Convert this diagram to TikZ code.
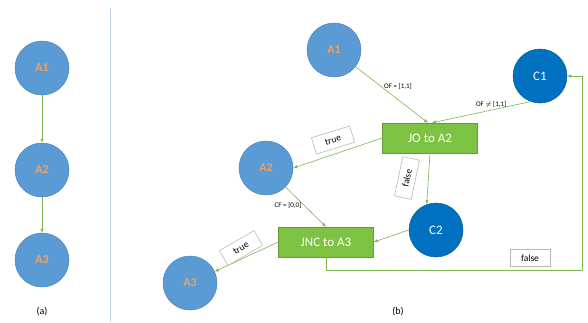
\documentclass[tikz,border=0pt]{standalone}
\usepackage{fontspec}
\setmainfont{Carlito}
\usetikzlibrary{arrows.meta}
\definecolor{ablue}{HTML}{5B9BD5}
\definecolor{cblue}{HTML}{0070C0}
\definecolor{aorange}{HTML}{F4A15E}
\definecolor{boxgreen}{HTML}{7DC242}
\definecolor{linkgreen}{HTML}{7DB84E}
\definecolor{sepblue}{HTML}{BDD7EE}
\tikzset{
  acirc/.style={circle, minimum size=54pt, inner sep=0pt, fill=ablue,
    draw=ablue!85!black, line width=0.5pt, text=aorange,
    font=\bfseries\fontsize{12}{12}\selectfont},
  ccirc/.style={circle, minimum size=54pt, inner sep=0pt, fill=cblue,
    draw=cblue!85!black, line width=0.5pt, text=white,
    font=\fontsize{13}{13}\selectfont},
  gbox/.style={rectangle, minimum width=95pt, minimum height=30pt, inner sep=0pt,
    fill=boxgreen, draw=boxgreen!80!black, line width=0.4pt, text=white,
    font=\fontsize{13}{13}\selectfont},
  flow/.style={draw=linkgreen, line width=0.6pt,
    -{Latex[length=4pt,width=3.5pt]}},
  tag/.style={rectangle, draw=gray!55, fill=white, line width=0.6pt,
    minimum width=40pt, minimum height=17pt, inner sep=0pt,
    font=\fontsize{9.5}{9.5}\selectfont},
  elabel/.style={font=\fontsize{7}{7}\selectfont, inner sep=1pt},
  caption/.style={font=\fontsize{10}{10}\selectfont}
}
\begin{document}
\begin{tikzpicture}[x=1pt,y=-1pt]
\useasboundingbox[fill=white] (0,0) rectangle (588,322);

% panel (a): plain sequence
\node[acirc] (a1) at (42,68) {A1};
\node[acirc] (a2) at (42,170) {A2};
\node[acirc] (a3) at (42,260) {A3};
\draw[flow] (a1) -- (a2);
\draw[flow] (a2) -- (a3);
\node[caption] (capa) at (42,312) {(a)};

% separator between the panels
\coordinate (septop) at (110,8);
\coordinate (sepbot) at (110,322);
\draw[sepblue, line width=0.8pt] (septop) -- (sepbot);

% panel (b): with jump instructions
\node[acirc] (b1) at (334,50) {A1};
\node[acirc] (b2) at (266,168) {A2};
\node[acirc] (b3) at (190,283) {A3};
\node[ccirc] (c1) at (540,76) {C1};
\node[ccirc] (c2) at (436,230) {C2};
\node[gbox] (jo) at (430,138) {JO to A2};
\node[gbox] (jnc) at (326,242) {JNC to A3};

\draw[flow] (b1) -- node[elabel, pos=0.35, right=2pt] {OF = [1,1]} ([xshift=-2pt]jo.north);
\draw[flow] (c1.250) -- node[elabel, pos=0.4, above=1pt] {OF $\neq$ [1,1]} ([xshift=2pt]jo.north);
\draw[flow] (jo.west) -- (b2.east);
\node[tag, rotate=17] (t1) at (333,140) {true};
\draw[flow] (jo.south) -- (c2.110);
\node[tag, rotate=78] (f1) at (407,178) {false};
\draw[flow] (b2) -- node[elabel, pos=0.45, left=1pt] {CF = [0,0]} (jnc.north);
\draw[flow] (c2.west) -- (jnc.east);
\draw[flow] (jnc.west) -- (b3);
\node[tag, rotate=30] (t2) at (241,248) {true};

% false branch of JNC loops back to C1
\coordinate (lp1) at (326,270);
\coordinate (lp2) at (582,270);
\coordinate (lp3) at (582,76);
\draw[flow] (jnc.south) -- (lp1) -- (lp2) -- (lp3) -- (c1.east);
\node[tag] (f2) at (530,258) {false};

\node[caption] (capb) at (398,312) {(b)};
\end{tikzpicture}
\end{document}
